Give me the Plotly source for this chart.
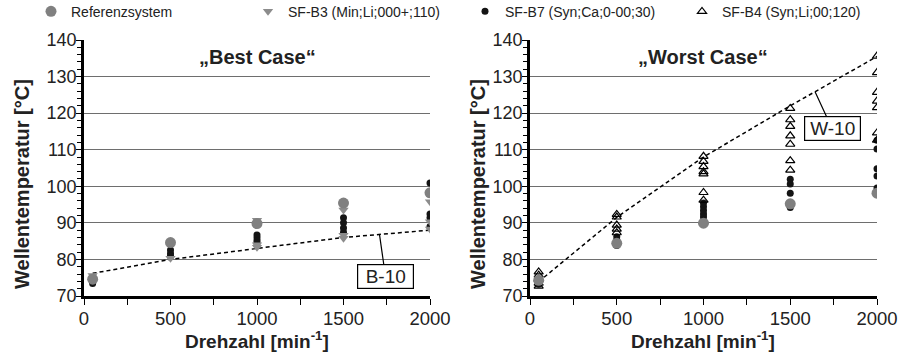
import numpy as np
import plotly.graph_objects as go

W, H = 910, 353
FONT = "Arial, Liberation Sans, sans-serif"

# ---------------- data ----------------
# speed levels [min^-1] used for the B-10 / W-10 limit curves
n_level = [50, 500, 1000, 1500, 2000]
b10 = [76.2, 80.0, 83.0, 86.0, 88.0]
w10 = [73.9, 91.5, 108.0, 122.0, 135.5]

# "Best Case"
best_ref_x = [50, 500, 1000, 1500, 2000]
best_ref_y = [74.6, 84.6, 89.8, 95.4, 98.2]
best_b3_x = [50, 500, 1000, 1000, 1000, 1500, 1500, 1500, 2000, 2000, 2000]
best_b3_y = [75.6, 80.3, 90.7, 83.3, 84.0, 93.5, 85.8, 86.6, 95.8, 90.3, 88.3]
best_b7_x = [50, 50, 500, 500, 500, 1000, 1000, 1000, 1000,
             1500, 1500, 1500, 1500, 2000, 2000, 2000, 2000]
best_b7_y = [73.4, 74.0, 82.6, 81.6, 80.9, 86.7, 85.9, 85.2, 84.5,
             91.4, 90.0, 88.6, 87.4, 100.9, 92.4, 91.4, 89.0]

# "Worst Case"
worst_ref_x = [50, 500, 1000, 1500, 2000]
worst_ref_y = [74.3, 84.4, 89.9, 95.2, 98.1]
worst_b7_x = [50, 500, 500, 500, 1000, 1000, 1000, 1000, 1000,
              1500, 1500, 1500, 1500, 2000, 2000, 2000, 2000, 2000]
worst_b7_y = [73.2, 86.2, 85.3, 83.8, 95.4, 94.4, 93.4, 92.4, 91.6,
              101.9, 100.6, 98.1, 94.2, 112.6, 110.2, 104.8, 102.8, 99.5]
worst_b4_x = [50, 50, 50, 50, 50, 500, 500, 500, 500, 500,
              1000, 1000, 1000, 1000, 1000, 1000, 1000,
              1500, 1500, 1500, 1500, 1500, 1500, 1500,
              2000, 2000, 2000, 2000, 2000, 2000, 2000]
worst_b4_y = [76.6, 75.7, 74.5, 73.5, 72.7, 92.3, 91.6, 89.4, 88.3, 87.3,
              108.2, 106.8, 105.4, 104.0, 103.4, 98.3, 96.2,
              121.3, 118.2, 116.4, 113.8, 111.5, 107.0, 104.4,
              135.6, 131.1, 125.7, 123.3, 121.5, 114.6, 112.6]

# ---------------- styles ----------------
REF = dict(symbol="circle", size=11, color="#808080")
B3 = dict(symbol="triangle-down", size=9, color="#8c8c8c")
B7 = dict(symbol="circle", size=7, color="#141414")
B4 = dict(symbol="triangle-up-open", size=8, color="#000000",
          line=dict(width=1.2, color="#000000"))


def px_x(p):
    return p / W


def px_y(p):
    return 1 - p / H


fig = go.Figure()

# limit curves
fig.add_trace(go.Scatter(x=n_level, y=b10, mode="lines", xaxis="x", yaxis="y",
                         line=dict(color="black", width=1.5, dash="4px,3px"),
                         showlegend=False, hoverinfo="skip"))
fig.add_trace(go.Scatter(x=n_level, y=w10, mode="lines", xaxis="x2", yaxis="y2",
                         line=dict(color="black", width=1.5, dash="4px,3px"),
                         showlegend=False, hoverinfo="skip"))

# left panel
fig.add_trace(go.Scatter(x=best_b7_x, y=best_b7_y, mode="markers", xaxis="x", yaxis="y",
                         name="SF-B7 (Syn;Ca;0-00;30)", legendgroup="b7", legendrank=3,
                         marker=B7))
fig.add_trace(go.Scatter(x=best_b3_x, y=best_b3_y, mode="markers", xaxis="x", yaxis="y",
                         name="SF-B3 (Min;Li;000+;110)", legendgroup="b3", legendrank=2,
                         marker=B3))
fig.add_trace(go.Scatter(x=best_ref_x, y=best_ref_y, mode="markers", xaxis="x", yaxis="y",
                         name="Referenzsystem", legendgroup="ref", legendrank=1,
                         marker=REF))

# right panel
fig.add_trace(go.Scatter(x=worst_b7_x, y=worst_b7_y, mode="markers", xaxis="x2", yaxis="y2",
                         name="SF-B7 (Syn;Ca;0-00;30)", legendgroup="b7", showlegend=False,
                         marker=B7))
fig.add_trace(go.Scatter(x=worst_b4_x, y=worst_b4_y, mode="markers", xaxis="x2", yaxis="y2",
                         name="SF-B4 (Syn;Li;00;120)", legendgroup="b4", legendrank=4,
                         marker=B4))
fig.add_trace(go.Scatter(x=worst_ref_x, y=worst_ref_y, mode="markers", xaxis="x2", yaxis="y2",
                         name="Referenzsystem", legendgroup="ref", showlegend=False,
                         marker=REF))

xcommon = dict(range=[0, 2000], dtick=500, tick0=0, showgrid=False, zeroline=False,
               showline=True, linecolor="black", linewidth=2.5, automargin=False,
               ticks="outside", ticklen=6, tickwidth=1.2, tickcolor="black",
               ticklabelstandoff=-2,
               minor=dict(dtick=250, ticks="outside", ticklen=6, tickwidth=1.2,
                          tickcolor="black", showgrid=False),
               tickfont=dict(family=FONT, size=18.5, color="#222"))
ycommon = dict(range=[70, 140], dtick=10, tick0=70, showgrid=True, gridcolor="#6e6e6e",
               gridwidth=1, zeroline=False, automargin=False,
               showline=True, linecolor="black", linewidth=2.5,
               ticks="outside", ticklen=5, tickwidth=1.2, tickcolor="black",
               ticklabelstandoff=-4,
               minor=dict(dtick=2, ticks="outside", ticklen=4, tickwidth=1,
                          tickcolor="black", showgrid=False),
               tickfont=dict(family=FONT, size=18, color="#222"))

ydom = [px_y(296), px_y(40)]
fig.update_layout(
    width=W, height=H, margin=dict(l=0, r=0, t=0, b=0, autoexpand=False),
    paper_bgcolor="white", plot_bgcolor="white",
    font=dict(family=FONT, color="#222"),
    xaxis=dict(domain=[px_x(84), px_x(430)], anchor="y", **xcommon),
    yaxis=dict(domain=ydom, anchor="x", **ycommon),
    xaxis2=dict(domain=[px_x(530), px_x(877)], anchor="y2", **xcommon),
    yaxis2=dict(domain=ydom, anchor="x2", **ycommon),
    legend=dict(orientation="h", x=px_x(31), xanchor="left", y=1.012, yanchor="top",
                font=dict(family=FONT, size=14, color="#222"),
                entrywidth=172, entrywidthmode="pixels",
                itemsizing="trace", bgcolor="rgba(0,0,0,0)", tracegroupgap=0),
    showlegend=True,
)

ann = []
mid = dict(xref="paper", yref="paper", xanchor="center", yanchor="middle", showarrow=False)
# panel titles
ann.append(dict(text="<b>„Best Case“</b>", x=px_x(257), y=px_y(57),
                font=dict(family=FONT, size=20, color="#222"), **mid))
ann.append(dict(text="<b>„Worst Case“</b>", x=px_x(703), y=px_y(57),
                font=dict(family=FONT, size=20, color="#222"), **mid))
# axis titles
for cx in (257, 703):
    ann.append(dict(text="<b>Drehzahl [min<sup>-1</sup>]</b>", x=px_x(cx), y=px_y(340),
                    font=dict(family=FONT, size=19, color="#222"), **mid))
for cx in (22, 478):
    ann.append(dict(text="<b>Wellentemperatur [°C]</b>", x=px_x(cx), y=px_y(184),
                    textangle=-90, font=dict(family=FONT, size=20, color="#222"), **mid))

# limit-curve labels with leader lines
box = dict(showarrow=True, arrowhead=0, arrowwidth=1.2, arrowcolor="black",
           font=dict(family=FONT, size=19, color="#222"),
           bgcolor="white", bordercolor="black", borderwidth=1.2, borderpad=2,
           width=51, height=19)
xb = 1708
ann.append(dict(text="B-10", x=xb, y=float(np.interp(xb, n_level, b10)), xref="x", yref="y",
                ax=6, ay=42, **box))
xw = 1643
ann.append(dict(text="W-10", x=xw, y=float(np.interp(xw, n_level, w10)), xref="x2", yref="y2",
                ax=17, ay=37, **box))
fig.update_layout(annotations=ann)

fig.write_html("out.html")
